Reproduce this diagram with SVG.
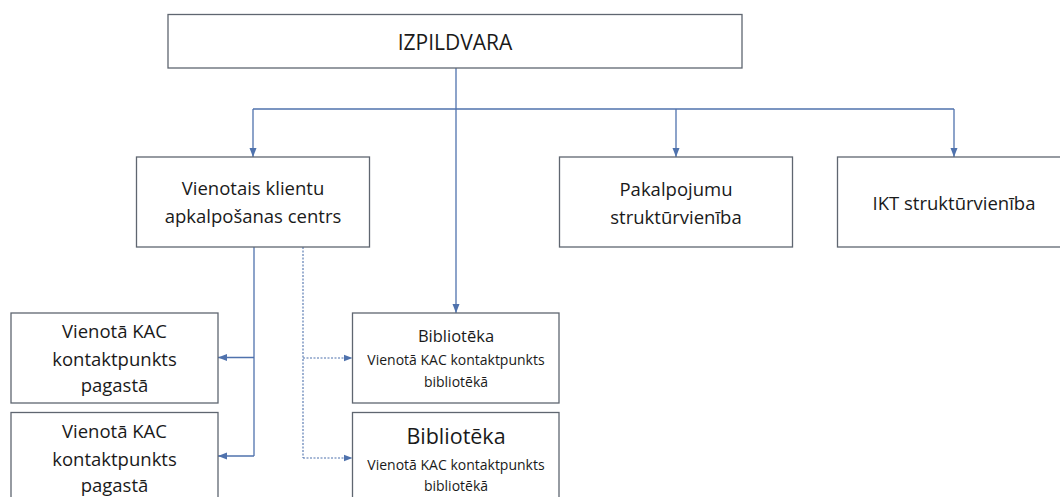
<svg xmlns="http://www.w3.org/2000/svg" width="1060" height="497" viewBox="0 0 1060 497">
<style>
.box{fill:#fff;stroke:#5f6670;stroke-width:1.3}
.t{font-family:"Open Sans","Noto Sans","Liberation Sans",sans-serif;fill:#1a1a1a;text-anchor:middle}
.c{fill:none;stroke:#4f72ad;stroke-width:1.3}
.d{fill:none;stroke:#4f72ad;stroke-width:1.1;stroke-dasharray:2 1.5}
</style>
<defs>
<marker id="ah" markerUnits="userSpaceOnUse" markerWidth="9" markerHeight="9" viewBox="0 0 9 9" refX="9" refY="4.5" orient="auto">
<path d="M0,1 L9,4.5 L0,8 Z" fill="#4f72ad"/>
</marker>
</defs>
<rect width="1060" height="497" fill="#fff"/>
<g id="connectors">
<path class="c" d="M456,68 V313" marker-end="url(#ah)"/>
<path class="c" d="M253,109 H954"/>
<path class="c" d="M253,109 V157" marker-end="url(#ah)"/>
<path class="c" d="M676,109 V157" marker-end="url(#ah)"/>
<path class="c" d="M954,109 V157" marker-end="url(#ah)"/>
<path class="c" d="M254,247 V456"/>
<path class="c" d="M254,357.5 H218" marker-end="url(#ah)"/>
<path class="c" d="M254,456 H218" marker-end="url(#ah)"/>
<path class="d" d="M303,247 V458"/>
<path class="d" d="M303,358 H352.5" marker-end="url(#ah)"/>
<path class="d" d="M303,458 H352.5" marker-end="url(#ah)"/>
</g>
<g id="izpildvara">
<rect class="box" x="168" y="14.5" width="574" height="53.5"/>
<text class="t" x="455" y="50" font-size="21">IZPILDVARA</text>
</g>
<g id="vkac">
<rect class="box" x="136.5" y="157" width="233" height="90"/>
<text class="t" x="253" y="195" font-size="18.5">Vienotais klientu</text>
<text class="t" x="253" y="223" font-size="18.5">apkalpošanas centrs</text>
</g>
<g id="pakalpojumu">
<rect class="box" x="559.5" y="157" width="233" height="90"/>
<text class="t" x="676" y="196" font-size="18.5">Pakalpojumu</text>
<text class="t" x="676" y="224" font-size="18.5">struktūrvienība</text>
</g>
<g id="ikt">
<rect class="box" x="837.5" y="157" width="240" height="90"/>
<text class="t" x="954" y="210" font-size="18.5">IKT struktūrvienība</text>
</g>
<g id="kac1">
<rect class="box" x="11" y="313" width="207" height="90"/>
<text class="t" x="114.5" y="338" font-size="18.5">Vienotā KAC</text>
<text class="t" x="114.5" y="366" font-size="18.5">kontaktpunkts</text>
<text class="t" x="114.5" y="392" font-size="18.5">pagastā</text>
</g>
<g id="kac2">
<rect class="box" x="11" y="412.5" width="207" height="100"/>
<text class="t" x="114.5" y="438" font-size="18.5">Vienotā KAC</text>
<text class="t" x="114.5" y="466" font-size="18.5">kontaktpunkts</text>
<text class="t" x="114.5" y="492" font-size="18.5">pagastā</text>
</g>
<g id="bib1">
<rect class="box" x="352.5" y="313" width="206.5" height="90"/>
<text class="t" x="456" y="342" font-size="16.5">Bibliotēka</text>
<text class="t" x="456" y="365" font-size="14">Vienotā KAC kontaktpunkts</text>
<text class="t" x="456" y="387" font-size="14">bibliotēkā</text>
</g>
<g id="bib2">
<rect class="box" x="352.5" y="412.5" width="206.5" height="100"/>
<text class="t" x="456" y="444" font-size="21.5">Bibliotēka</text>
<text class="t" x="456" y="470" font-size="14">Vienotā KAC kontaktpunkts</text>
<text class="t" x="456" y="491" font-size="14">bibliotēkā</text>
</g>
</svg>
